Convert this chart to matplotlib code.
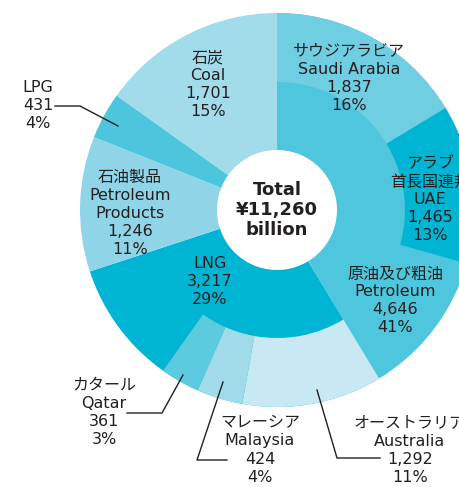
import matplotlib.pyplot as plt

plt.rcParams['font.family'] = ['DejaVu Sans', 'Noto Sans CJK JP']

total = 11260

# inner ring: fuel types (clockwise from 12 o'clock)
fuel_names = ['原油及び粗油\nPetroleum', 'LNG', '石油製品\nPetroleum\nProducts', 'LPG', '石炭\nCoal']
fuel_values = [4646, 3217, 1246, 431, 1701]
fuel_colors = ['#4ec6dd', '#00b5d4', '#8fd5e7', '#4dc6dd', '#a2dceb']

# outer ring: main supplier countries inside petroleum and LNG
country_names = ['サウジアラビア\nSaudi Arabia', 'アラブ\n首長国連邦\nUAE',
                 'オーストラリア\nAustralia', 'マレーシア\nMalaysia', 'カタール\nQatar']
country_values = [1837, 1465, 1292, 424, 361]
country_colors = ['#6fcee1', '#00b5d4', '#c8e9f3', '#a1dbea', '#5bcbe0']

# outer ring sequence: countries plus the remaining part of each fuel
pet_rest = fuel_values[0] - sum(country_values[:2])
lng_rest = fuel_values[1] - sum(country_values[2:])
outer_values = country_values[:2] + [pet_rest] + country_values[2:] + [lng_rest] + fuel_values[2:]
outer_colors = country_colors[:2] + ['none'] + country_colors[2:] + ['none'] + ['none'] * 3


def label(name, value):
    return f"{name}\n{value:,}\n{round(value / total * 100)}%"


fig = plt.figure(figsize=(4.6, 4.87), dpi=100)
ax = fig.add_axes([0, 0, 1, 1])

cx, cy = 277, 210
r_out, r_mid, r_in = 197, 128, 60

# y axis is flipped below, so counterclock=True draws clockwise on screen
ax.pie(fuel_values, colors=fuel_colors, radius=r_out, center=(cx, cy),
       startangle=-90, counterclock=True,
       wedgeprops=dict(width=r_out - r_in, linewidth=0))
ax.pie(outer_values, colors=outer_colors, radius=r_out, center=(cx, cy),
       startangle=-90, counterclock=True,
       wedgeprops=dict(width=r_out - r_mid, linewidth=0))

ax.set_xlim(0, 460)
ax.set_ylim(487, 0)
ax.set_aspect('auto')
ax.axis('off')

txt = dict(ha='center', va='center', fontsize=11.5, color='#231f20', linespacing=1.25)

# fuel labels
fuel_pos = [(395, 301), (210, 281), (130, 213), (38, 106), (208, 85)]
for name, v, (x, y) in zip(fuel_names, fuel_values, fuel_pos):
    ax.text(x, y, label(name, v), **txt)

# country labels
country_pos = [(349, 78), (430, 200), (410, 450), (260, 450), (104, 412)]
for name, v, (x, y) in zip(country_names, country_values, country_pos):
    ax.text(x, y, label(name, v), **txt)

# leader lines
leaders = [
    ([55, 80, 118], [106, 106, 126]),     # LPG
    ([127, 162, 183], [413, 413, 375]),   # Qatar
    ([227, 197, 223], [460, 460, 382]),   # Malaysia
    ([380, 337, 317], [458, 458, 390]),   # Australia
]
for xs, ys in leaders:
    ax.plot(xs, ys, color='#231f20', lw=1)

ax.text(cx, cy, 'Total\n¥11,260\nbillion', ha='center', va='center',
        fontsize=13, fontweight='bold', color='#231f20', linespacing=1.15)

fig.savefig('out.png', dpi=100)
